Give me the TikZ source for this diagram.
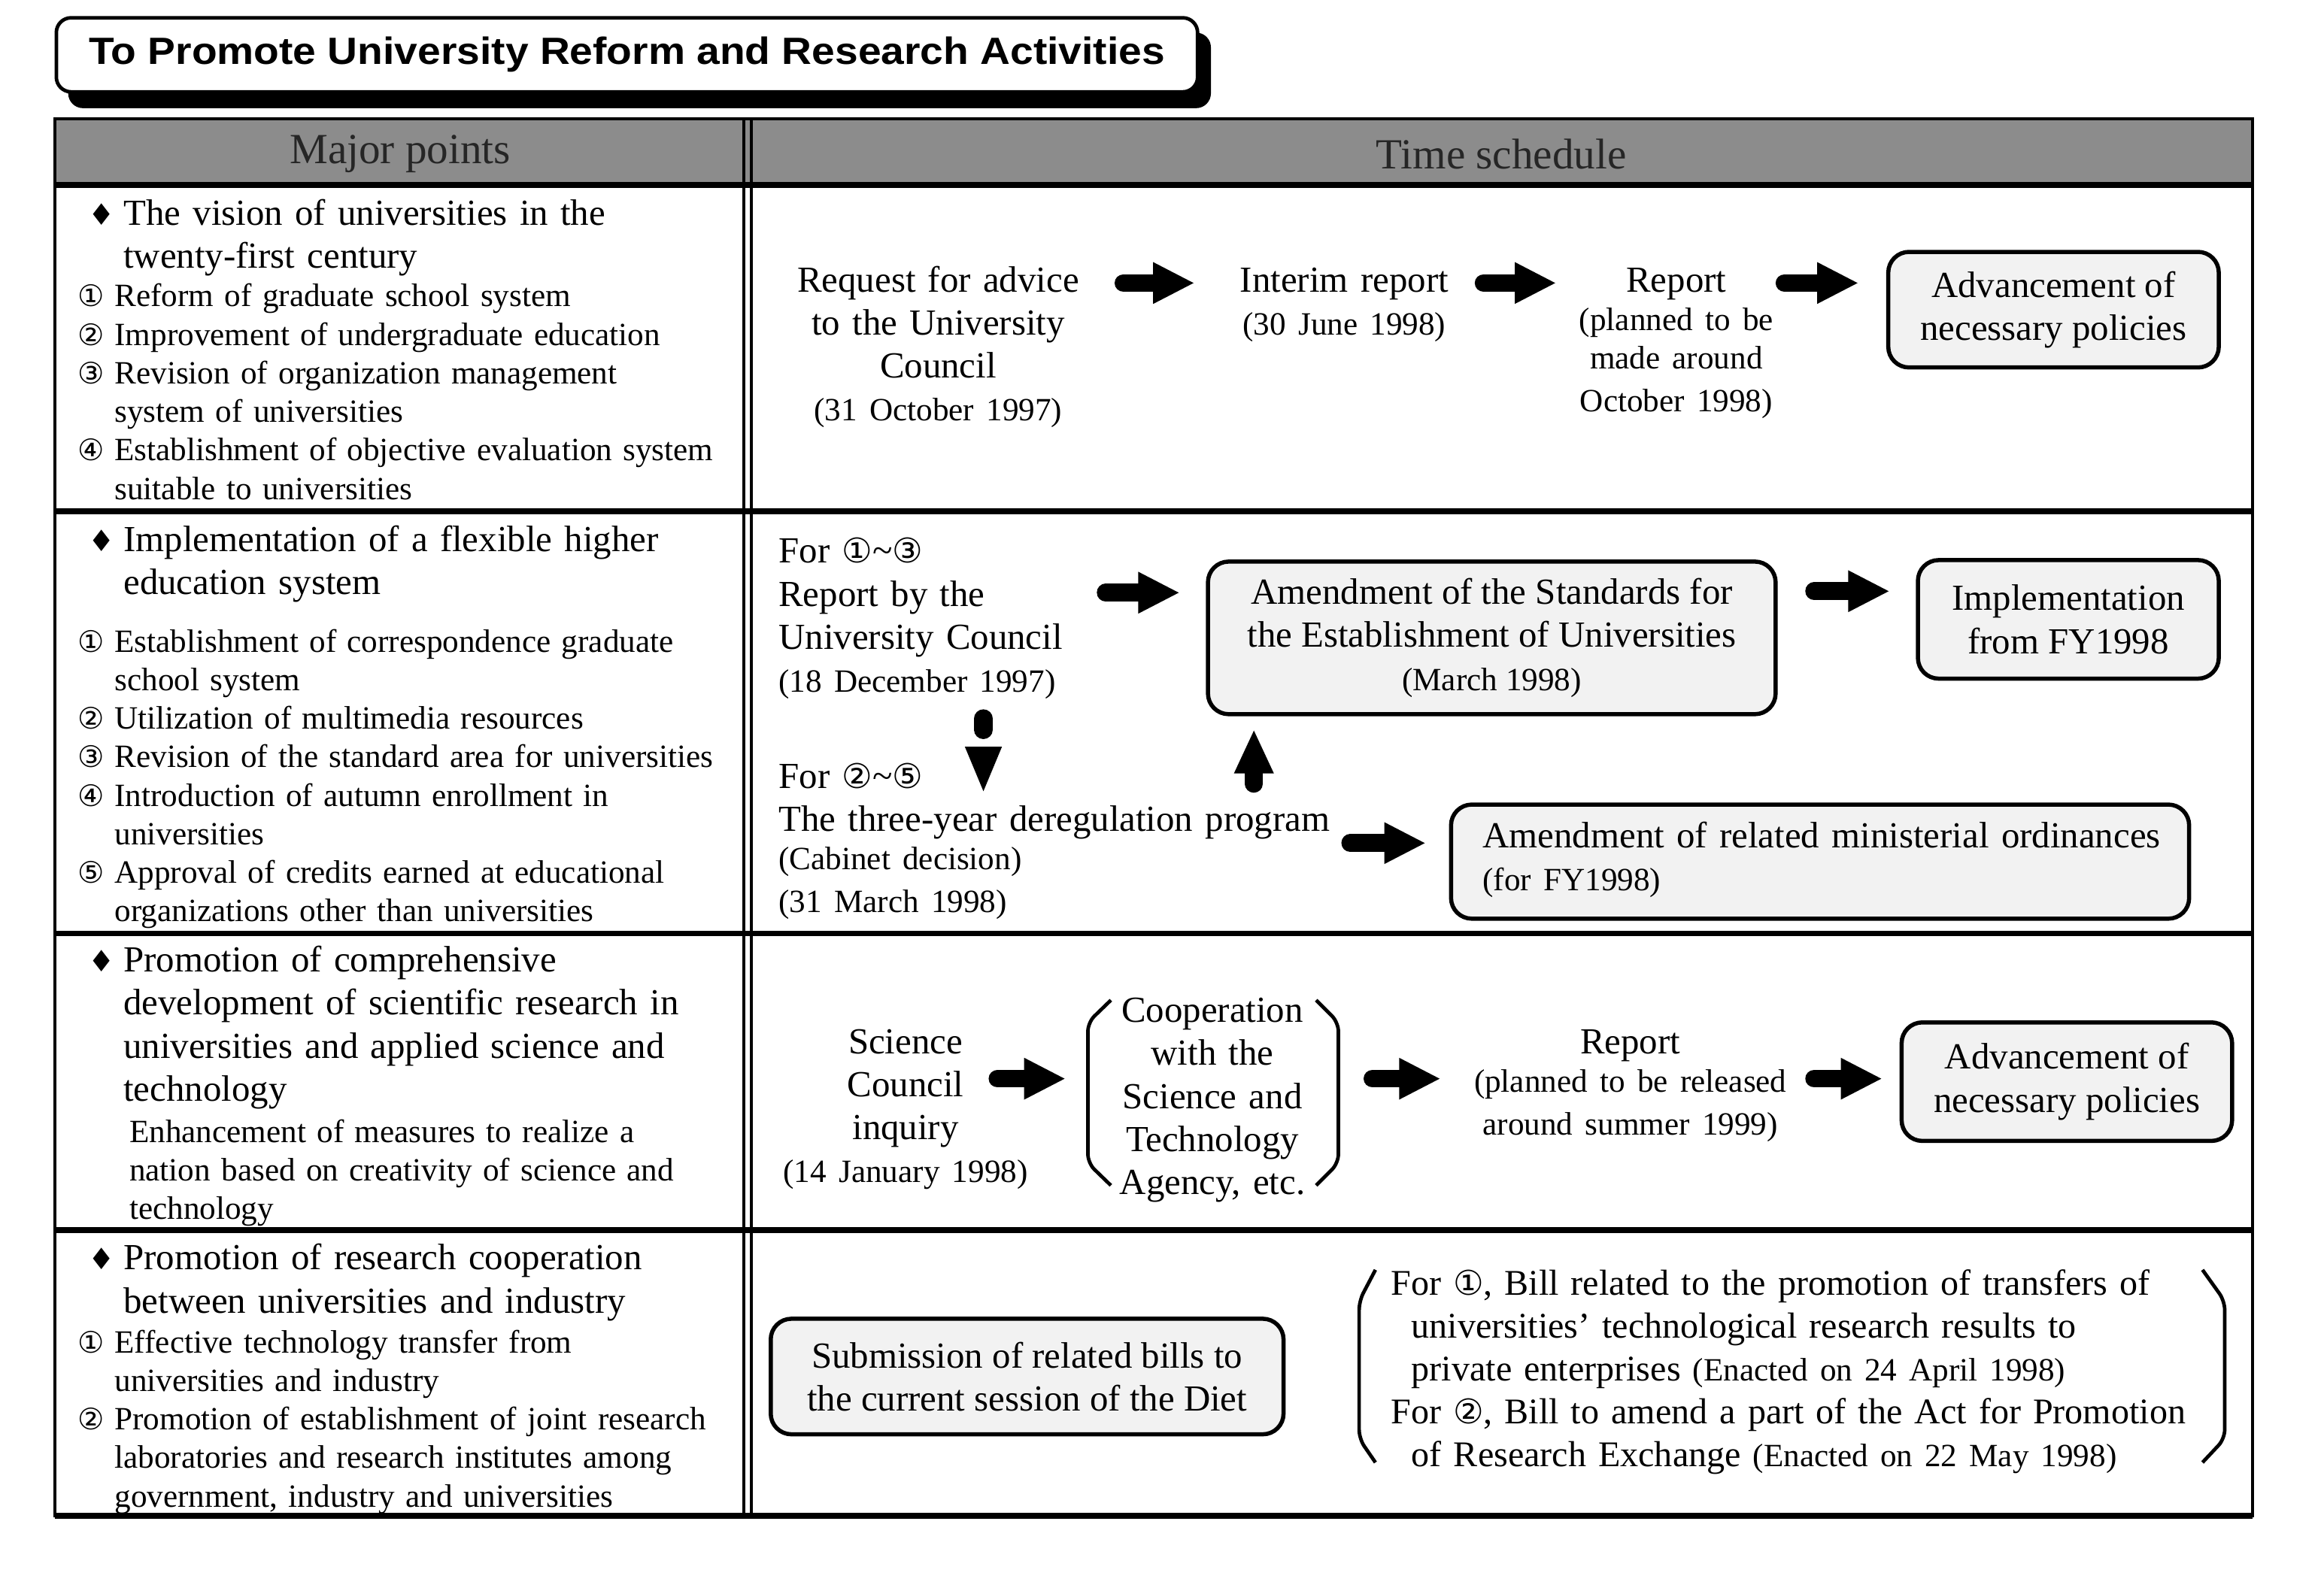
\documentclass[tikz,border=0pt]{standalone}
\usepackage{graphicx}
\usepackage{fontspec}
\setmainfont{Liberation Serif}
\newfontfamily\symf{DejaVu Sans}
\newfontfamily\titlef{Liberation Sans}
\usetikzlibrary{arrows.meta}
\newcommand{\bigf}{\fontsize{12.4}{14.5}\selectfont}
\newcommand{\smf}{\fontsize{10.95}{13}\selectfont}
\newcommand{\cn}[1]{{\symf\fontsize{10}{10}\selectfont#1}}
\newcommand{\cnb}[1]{{\symf\fontsize{11.5}{11.5}\selectfont#1}}
\newcommand{\itm}[1]{\makebox[12.5pt][l]{\cn{#1}}}
\newcommand{\dmd}{\makebox[13.5pt][l]{\hspace*{1.5pt}{\symf\fontsize{10}{10}\selectfont ♦}}}
\newcommand{\ind}{\hspace*{12.5pt}}
\newcommand{\hind}{\hspace*{13.5pt}}
\tikzset{
  lhead/.style={anchor=base west, inner sep=0pt, text width=250pt, align=left, font=\bigf},
  litem/.style={anchor=base west, inner sep=0pt, text width=250pt, align=left, font=\smf},
  ctext/.style={anchor=base, inner sep=0pt, text width=200pt, align=center, font=\bigf},
  rbox/.style={draw, line width=1.4pt, rounded corners=7pt, fill=black!5, inner sep=0pt, align=center, font=\bigf},
  barrow/.style={line width=6pt, line cap=round, -{Triangle[length=14pt,width=13pt]}},
  uparrow/.style={line width=6pt, line cap=round, -{Triangle[length=15pt,width=12.25pt]}},
  brack/.style={line width=1.2pt, rounded corners=3pt},
  tline/.style={line width=1pt},
  rowline/.style={line width=2pt}
}
\begin{document}
\begin{tikzpicture}[x=0.5pt,y=-0.5pt]
\useasboundingbox (0,0) rectangle (1568,1075.3);
% ---------- title ----------
\fill[black, rounded corners=5pt] (46,22) rectangle (817,73);
\node[draw, line width=1.2pt, rounded corners=5pt, fill=white, minimum width=385pt, minimum height=25pt, inner sep=0pt] (title) at (423,37)
  {\resizebox{363pt}{\height}{\titlef\bfseries\fontsize{12.8}{14}\selectfont To Promote University Reform and Research Activities}};
% ---------- table ----------
\fill[black!45] (37,80) rectangle (1520,125);
\draw[tline] (37,80) rectangle (1520,1023);
\draw[rowline] (37,125) -- (1520,125);
\draw[rowline] (37,345) -- (1520,345);
\draw[rowline] (37,630) -- (1520,630);
\draw[rowline] (37,830) -- (1520,830);
\draw[rowline] (37,1023) -- (1520,1023);
\draw[tline] (502,80) -- (502,1023);
\draw[tline] (507,80) -- (507,1023);
\node[font=\fontsize{14.5}{16}\selectfont, text=black!85, inner sep=0pt] (hmaj) at (270,104) {Major points};
\node[font=\fontsize{14.5}{16}\selectfont, text=black!85, inner sep=0pt] (hts) at (1013,104) {Time schedule};
% ---------- left column ----------
\node[lhead] (lh1) at (56,152) {\dmd The vision of universities in the\\\hind twenty-first century};
\node[litem] (li1) at (52,207) {\itm{①}Reform of graduate school system\\
\itm{②}Improvement of undergraduate education\\
\itm{③}Revision of organization management\\
\ind system of universities\\
\itm{④}Establishment of objective evaluation system\\
\ind suitable to universities};
\node[lhead] (lh2) at (56,372) {\dmd Implementation of a flexible higher\\\hind education system};
\node[litem] (li2) at (52,440) {\itm{①}Establishment of correspondence graduate\\
\ind school system\\
\itm{②}Utilization of multimedia resources\\
\itm{③}Revision of the standard area for universities\\
\itm{④}Introduction of autumn enrollment in\\
\ind universities\\
\itm{⑤}Approval of credits earned at educational\\
\ind organizations other than universities};
\node[lhead] (lh3) at (56,656) {\dmd Promotion of comprehensive\\
\hind development of scientific research in\\
\hind universities and applied science and\\
\hind technology};
\node[litem] (li3) at (87,771) {Enhancement of measures to realize a\\
nation based on creativity of science and\\
technology};
\node[lhead] (lh4) at (56,857) {\dmd Promotion of research cooperation\\\hind between universities and industry};
\node[litem] (li4) at (52,913) {\itm{①}Effective technology transfer from\\
\ind universities and industry\\
\itm{②}Promotion of establishment of joint research\\
\ind laboratories and research institutes among\\
\ind government, industry and universities};
% ---------- row 1 right ----------
\node[ctext] (req) at (633,197) {Request for advice\\to the University\\Council\\{\smf(31 October 1997)}};
\node[ctext] (interim) at (907,197) {Interim report\\{\smf(30 June 1998)}};
\node[ctext] (rep1) at (1131,197) {Report\\{\smf(planned to be\\made around\\October 1998)}};
\node[rbox, minimum width=111.5pt, minimum height=39pt] (adv1) at (1385.5,209) {Advancement of\\necessary policies};
\coordinate (a1s) at (758,191); \coordinate (a1e) at (806,191);
\coordinate (a2s) at (1001,191); \coordinate (a2e) at (1050,191);
\coordinate (a3s) at (1204,191); \coordinate (a3e) at (1254,191);
\draw[barrow] (a1s) -- (a1e);
\draw[barrow] (a2s) -- (a2e);
\draw[barrow] (a3s) -- (a3e);
% ---------- row 2 right ----------
\node[lhead] (for13) at (525,380) {For \cnb{①}\textasciitilde\cnb{③}\\Report by the\\University Council\\{\smf(18 December 1997)}};
\node[lhead] (for25) at (525,532) {For \cnb{②}\textasciitilde\cnb{⑤}\\The three-year deregulation program\\{\smf(Cabinet decision)\\(31 March 1998)}};
\node[rbox, minimum width=191.5pt, minimum height=51.5pt] (std) at (1006.5,430.5) {Amendment of the Standards for\\the Establishment of Universities\\{\smf(March 1998)}};
\node[rbox, minimum width=101.5pt, minimum height=40pt] (impl) at (1395.5,418) {Implementation\\from FY1998};
\node[rbox, minimum width=249pt, minimum height=38.5pt] (ord) at (1228,581.5) {};
\node[lhead] (ordtxt) at (1000,572) {Amendment of related ministerial ordinances\\{\smf(for FY1998)}};
\coordinate (b1s) at (746,400); \coordinate (b1e) at (796,400);
\coordinate (b2s) at (1224,399); \coordinate (b2e) at (1275,399);
\coordinate (b3s) at (911,569); \coordinate (b3e) at (962,569);
\draw[barrow] (b1s) -- (b1e);
\draw[barrow] (b2s) -- (b2e);
\draw[barrow] (b3s) -- (b3e);
\coordinate (dn1) at (663.5,485); \coordinate (dn2) at (663.5,492.5);
\draw[line width=6.3pt, line cap=round] (dn1) -- (dn2);
\fill (651,504) -- (676,504) -- (663.5,534) -- cycle;
\coordinate (up1) at (846,529); \coordinate (up2) at (846,492);
\draw[uparrow] (up1) -- (up2);
% ---------- row 3 right ----------
\node[ctext] (sci) at (611,711) {Science\\Council\\inquiry\\{\smf(14 January 1998)}};
\node[ctext] (coop) at (818,690) {Cooperation\\with the\\Science and\\Technology\\Agency, etc.};
\draw[brack] (749.5,675) -- (734,690) -- (734,785) -- (749.5,800);
\draw[brack] (888,675) -- (903,690) -- (903,785) -- (888,800);
\node[ctext] (rep2) at (1100,711) {Report\\{\smf(planned to be released\\around summer 1999)}};
\node[rbox, minimum width=111.5pt, minimum height=40pt] (adv2) at (1394.5,730) {Advancement of\\necessary policies};
\coordinate (c1s) at (673,728); \coordinate (c1e) at (719,728);
\coordinate (c2s) at (926,728); \coordinate (c2e) at (972,728);
\coordinate (c3s) at (1224,728); \coordinate (c3e) at (1270,728);
\draw[barrow] (c1s) -- (c1e);
\draw[barrow] (c2s) -- (c2e);
\draw[barrow] (c3s) -- (c3e);
% ---------- row 4 right ----------
\node[rbox, minimum width=173pt, minimum height=39pt] (sub) at (693,929) {Submission of related bills to\\the current session of the Diet};
\node[lhead, text width=290pt, font=\fontsize{12.2}{14.5}\selectfont] (bills) at (938,874) {For \cnb{①}, Bill related to the promotion of transfers of\\
\hspace*{7pt}universities’ technological research results to\\
\hspace*{7pt}private enterprises {\smf(Enacted on 24 April 1998)}\\
For \cnb{②}, Bill to amend a part of the Act for Promotion\\
\hspace*{7pt}of Research Exchange {\smf(Enacted on 22 May 1998)}};
\draw[brack] (928,857) -- (917,878) -- (917,971) -- (928,987);
\draw[brack] (1486,857) -- (1501,878) -- (1501,971) -- (1486,987);
\end{tikzpicture}
\end{document}
